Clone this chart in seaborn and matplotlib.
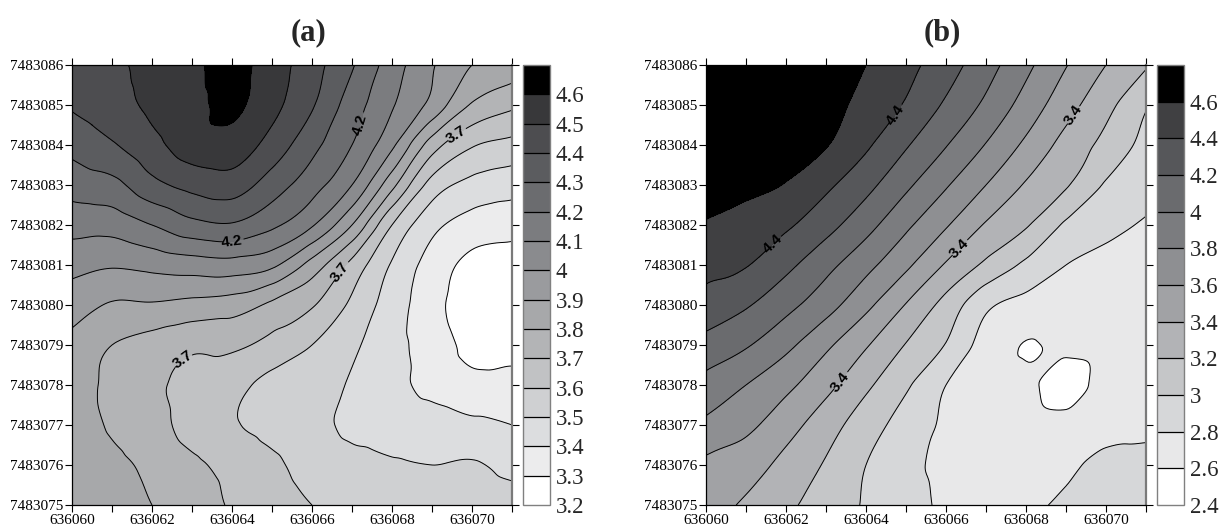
import numpy as np
import matplotlib
matplotlib.use("Agg")
import matplotlib.pyplot as plt
import matplotlib.tri as mtri
from matplotlib.ticker import FixedLocator, FixedFormatter
import seaborn as sns

# ---------------- data ----------------
east = [636060, 636061, 636062, 636063, 636064, 636065,
        636066, 636067, 636068, 636069, 636070, 636071]
north = [7483075, 7483076, 7483077, 7483078, 7483079, 7483080,
         7483081, 7483082, 7483083, 7483084, 7483085, 7483086]

x_tick_labels = ["636060", "", "636062", "", "636064", "", "636066", "",
                 "636068", "", "636070", ""]
y_tick_labels = ["7483075", "7483076", "7483077", "7483078", "7483079", "7483080",
                 "7483081", "7483082", "7483083", "7483084", "7483085", "7483086"]

# panel (a): rows from north 7483086 (top) down to 7483075 (bottom)
values_a = [
    [4.44, 4.48, 4.53, 4.58, 4.63, 4.55, 4.44, 4.31, 4.15, 4.01, 3.90, 3.86],
    [4.41, 4.46, 4.52, 4.57, 4.62, 4.53, 4.41, 4.25, 4.11, 3.97, 3.79, 3.72],
    [4.33, 4.39, 4.47, 4.55, 4.56, 4.46, 4.33, 4.20, 4.02, 3.75, 3.61, 3.57],
    [4.24, 4.27, 4.37, 4.43, 4.45, 4.35, 4.24, 4.10, 3.83, 3.56, 3.47, 3.44],
    [4.14, 4.14, 4.20, 4.27, 4.29, 4.22, 4.11, 3.90, 3.60, 3.43, 3.36, 3.34],
    [4.03, 4.01, 4.03, 4.05, 4.06, 4.02, 3.86, 3.67, 3.49, 3.36, 3.27, 3.25],
    [3.95, 3.89, 3.89, 3.87, 3.85, 3.78, 3.71, 3.58, 3.45, 3.34, 3.23, 3.21],
    [3.87, 3.80, 3.76, 3.72, 3.72, 3.67, 3.60, 3.52, 3.43, 3.36, 3.27, 3.26],
    [3.84, 3.78, 3.72, 3.67, 3.63, 3.57, 3.54, 3.49, 3.43, 3.37, 3.33, 3.34],
    [3.84, 3.79, 3.74, 3.66, 3.61, 3.57, 3.53, 3.48, 3.46, 3.45, 3.42, 3.40],
    [3.85, 3.82, 3.78, 3.72, 3.67, 3.62, 3.56, 3.53, 3.51, 3.50, 3.51, 3.47],
    [3.86, 3.83, 3.80, 3.75, 3.69, 3.65, 3.60, 3.57, 3.56, 3.55, 3.56, 3.55],
]

# panel (b): rows from north 7483086 (top) down to 7483075 (bottom)
values_b = [
    [4.79, 4.78, 4.75, 4.69, 4.60, 4.46, 4.29, 4.08, 3.85, 3.61, 3.40, 3.22],
    [4.78, 4.75, 4.71, 4.67, 4.53, 4.38, 4.17, 3.96, 3.72, 3.48, 3.26, 3.02],
    [4.77, 4.73, 4.67, 4.61, 4.43, 4.22, 4.01, 3.79, 3.56, 3.33, 3.14, 2.94],
    [4.72, 4.66, 4.59, 4.44, 4.26, 4.04, 3.82, 3.60, 3.38, 3.22, 2.98, 2.87],
    [4.58, 4.50, 4.43, 4.27, 4.07, 3.84, 3.62, 3.38, 3.22, 2.97, 2.86, 2.78],
    [4.45, 4.41, 4.25, 4.06, 3.86, 3.64, 3.38, 3.16, 2.96, 2.80, 2.74, 2.72],
    [4.33, 4.22, 4.06, 3.88, 3.65, 3.39, 3.13, 2.84, 2.74, 2.72, 2.70, 2.70],
    [4.13, 4.02, 3.85, 3.64, 3.42, 3.19, 2.99, 2.72, 2.592, 2.64, 2.67, 2.69],
    [3.93, 3.80, 3.65, 3.46, 3.24, 3.03, 2.80, 2.70, 2.64, 2.52, 2.67, 2.70],
    [3.76, 3.65, 3.48, 3.29, 3.09, 2.92, 2.77, 2.71, 2.68, 2.66, 2.72, 2.74],
    [3.56, 3.49, 3.34, 3.18, 3.00, 2.85, 2.76, 2.72, 2.71, 2.76, 2.86, 2.88],
    [3.48, 3.37, 3.24, 3.11, 2.98, 2.87, 2.77, 2.74, 2.77, 2.83, 2.90, 2.92],
]

levels_a = [3.2, 3.3, 3.4, 3.5, 3.6, 3.7, 3.8, 3.9, 4.0, 4.1, 4.2, 4.3, 4.4, 4.5, 4.6, 4.7]
levels_b = [2.4, 2.6, 2.8, 3.0, 3.2, 3.4, 3.6, 3.8, 4.0, 4.2, 4.4, 4.6, 4.8]

cbar_ticks_a = [3.2, 3.3, 3.4, 3.5, 3.6, 3.7, 3.8, 3.9, 4.0, 4.1, 4.2, 4.3, 4.4, 4.5, 4.6]
cbar_labels_a = ["3.2", "3.3", "3.4", "3.5", "3.6", "3.7", "3.8", "3.9", "4",
                 "4.1", "4.2", "4.3", "4.4", "4.5", "4.6"]
cbar_ticks_b = [2.4, 2.6, 2.8, 3.0, 3.2, 3.4, 3.6, 3.8, 4.0, 4.2, 4.4, 4.6]
cbar_labels_b = ["2.4", "2.6", "2.8", "3", "3.2", "3.4", "3.6", "3.8", "4",
                 "4.2", "4.4", "4.6"]

line_labels_a = [4.2, 3.7]
line_labels_b = [4.4, 3.4]

# ---------------- style ----------------
sns.set_style("ticks")
plt.rcParams["font.family"] = ["Liberation Serif", "DejaVu Serif"]

colors_a = ["#ffffff", "#ececed", "#dcdddf", "#cfd0d2", "#c1c2c4", "#b3b4b6",
            "#a7a8aa", "#9a9b9e", "#8a8b8e", "#7b7c7f", "#6b6c6f", "#5b5c5f",
            "#4d4d50", "#38383a", "#000000"]
colors_b = ["#ffffff", "#e8e8e9", "#d6d7d9", "#c5c6c8", "#b2b3b6", "#a1a2a5",
            "#8e8f92", "#7b7c7f", "#6a6b6e", "#56575a", "#404042", "#000000"]

# label anchor positions (placement only)
label_pos_a = {4.2: [(636064.0, 7483081.62), (636067.07, 7483084.55)],
               3.7: [(636069.65, 7483084.2), (636066.73, 7483080.8),
                     (636062.69, 7483078.75)]}
label_pos_b = {4.4: [(636064.73, 7483084.75), (636061.73, 7483081.46)],
               3.4: [(636069.18, 7483084.75), (636066.27, 7483081.46),
                     (636063.35, 7483078.08)]}

W, H = 1220, 527
fig = plt.figure(figsize=(W / 100, H / 100), dpi=100)


def grid_triangulation():
    X, Y = np.meshgrid(np.array(east, float), np.array(north, float))
    nx, ny = len(east), len(north)
    tris = []
    for j in range(ny - 1):
        for i in range(nx - 1):
            a = j * nx + i
            b = a + 1
            c = a + nx
            d = c + 1
            tris.append([a, b, d])
            tris.append([a, d, c])
    return mtri.Triangulation(X.ravel(), Y.ravel(), np.array(tris))


def draw(left_px, values, levels, colors, cb_ticks, cb_labels, lab_levels, lab_pos, title):
    ax = fig.add_axes([left_px / W, 1 - 505 / H, 440 / W, 440 / H])
    cax = fig.add_axes([(left_px + 451) / W, 1 - 505 / H, 27 / W, 440 / H])
    Z = np.array(values, float)[::-1]
    tri = grid_triangulation()
    interp = mtri.CubicTriInterpolator(tri, Z.ravel(), kind="geom")
    refiner = mtri.UniformTriRefiner(tri)
    tri_f, z_f = refiner.refine_field(Z.ravel(), triinterpolator=interp, subdiv=4)
    z_f = np.clip(z_f, levels[0] + 1e-4, levels[-1] - 1e-4)
    cf = ax.tricontourf(tri_f, z_f, levels=levels, colors=colors)
    inner = levels[1:-1]
    plain = [l for l in inner if not any(np.isclose(l, m) for m in lab_levels)]
    ax.tricontour(tri_f, z_f, levels=plain, colors="k", linewidths=0.7)
    for lev in lab_levels:
        cl = ax.tricontour(tri_f, z_f, levels=[lev], colors="k", linewidths=0.7)
        ax.clabel(cl, manual=lab_pos[lev], inline=True, fmt="%g",
                  fontsize=11, inline_spacing=1)
        for t in cl.labelTexts:
            t.set_fontweight("bold")
            t.set_family(["Liberation Sans", "DejaVu Sans"])

    ax.set_xlim(east[0], east[-1])
    ax.set_ylim(north[0], north[-1])
    ax.xaxis.set_major_locator(FixedLocator(east))
    ax.xaxis.set_major_formatter(FixedFormatter(x_tick_labels))
    ax.yaxis.set_major_locator(FixedLocator(north))
    ax.yaxis.set_major_formatter(FixedFormatter(y_tick_labels))
    ax.tick_params(which="both", direction="out", top=True, right=True,
                   length=5, width=0.8, labelsize=11, pad=1.5, colors="black")
    for s in ["left", "top", "bottom"]:
        ax.spines[s].set_color("black")
        ax.spines[s].set_linewidth(0.9)
    ax.spines["right"].set_color("#7a7a7a")
    ax.spines["right"].set_linewidth(1.6)

    cb = fig.colorbar(cf, cax=cax, ticks=cb_ticks)
    cb.ax.set_yticklabels(cb_labels)
    cb.ax.tick_params(length=0, labelsize=16.5, pad=4)
    cb.outline.set_edgecolor("#808080")
    cb.outline.set_linewidth(1.0)
    n = len(inner)
    cb.add_lines(inner, ["k"] * n, [0.9] * n)

    fig.text((left_px + 236) / W, 1 - 33 / H, title, ha="center", va="center",
             fontsize=22, fontweight="bold")


draw(72, values_a, levels_a, colors_a, cbar_ticks_a, cbar_labels_a,
     line_labels_a, label_pos_a, "(a)")
draw(706, values_b, levels_b, colors_b, cbar_ticks_b, cbar_labels_b,
     line_labels_b, label_pos_b, "(b)")

fig.savefig("out.png", dpi=100)
